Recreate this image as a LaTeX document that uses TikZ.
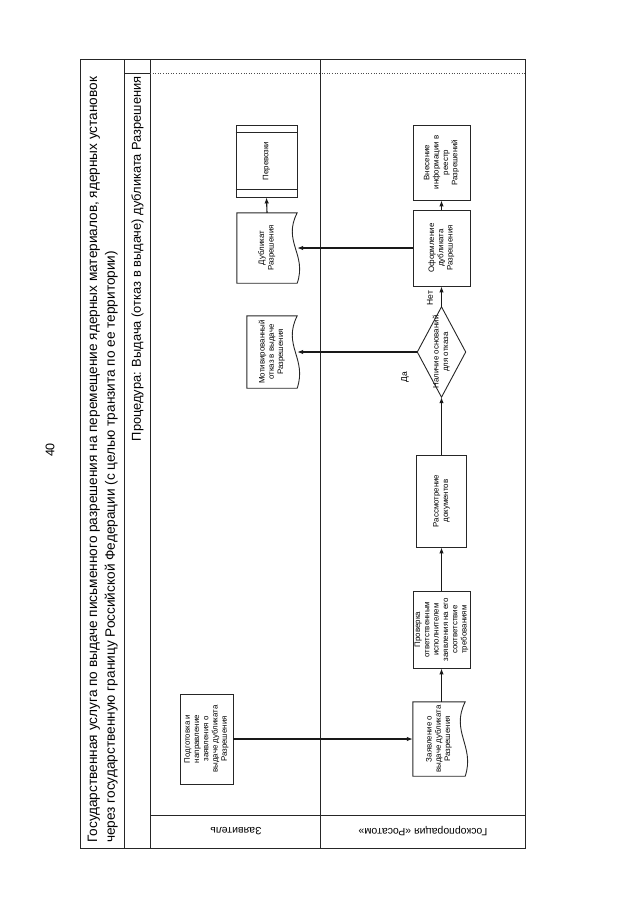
\documentclass[tikz,border=0pt]{standalone}
\usepackage{graphicx}
\usepackage{fontspec}
\setmainfont{Liberation Sans}
\usetikzlibrary{arrows.meta,calc}
\newcommand{\rtext}[1]{\rotatebox{90}{\begin{tabular}{@{}c@{}}#1\end{tabular}}}
\begin{document}
\begin{tikzpicture}[x=1pt,y=-1pt,
  frameline/.style={line width=1pt, draw=black!85},
  procbox/.style={draw=black!85, line width=0.9pt, rectangle, inner sep=0pt, font=\fontsize{7.9}{9.3}\selectfont},
  shapebox/.style={draw=none, rectangle, inner sep=0pt, font=\fontsize{7.9}{9.3}\selectfont},
  outline/.style={draw=black!85, line width=0.9pt},
  conn/.style={line width=1.1pt, draw=black!90, -{Latex[length=6pt,width=4.5pt]}},
  small/.style={font=\fontsize{8.5}{10}\selectfont, inner sep=0pt}]
\useasboundingbox (0,0) rectangle (640,905);

% frame
\draw[frameline] (80,59) rectangle (525,848);
\draw[frameline] (124,59) -- (124,848);
\draw[frameline] (150,59) -- (150,848);
\draw[frameline] (320,59) -- (320,848);
\draw[frameline] (150,815) -- (525,815);
\draw[frameline] (124,73) -- (150,73);
\draw[dotted, line width=0.6pt, black!70] (150,73) -- (525,73);

% page number
\node[rotate=90, font=\fontsize{12.5}{14}\selectfont, inner sep=0pt] (pnum) at (50,450) {40};

% title
\node[anchor=south, inner sep=0pt] (title) at (102.5,843) {\rotatebox{90}{\resizebox{766pt}{!}{\fontsize{13.6}{17.5}\selectfont\begin{tabular}{@{}l@{}}Государственная услуга по выдаче письменного разрешения на перемещение ядерных материалов, ядерных установок\\через государственную границу Российской Федерации (с целью транзита по ее территории)\end{tabular}}}};

% procedure label
\node[anchor=north, inner sep=0pt] (proc) at (137.5,76) {\rotatebox{90}{\resizebox{365pt}{!}{\fontsize{13.5}{16}\selectfont Процедура: Выдача (отказ в выдаче) дубликата Разрешения}}};

% lane labels
\node[rotate=180, font=\fontsize{10.5}{12}\selectfont, inner sep=0pt] (lane1) at (236,831) {Заявитель};
\node[rotate=180, font=\fontsize{10.5}{12}\selectfont, inner sep=0pt] (lane2) at (423,831) {Госкорпорация «Росатом»};

% nodes
\node[procbox, minimum width=53, minimum height=90] (prep) at (206.5,739) {\rtext{Подготовка и\\направление\\заявления о\\выдаче дубликата\\Разрешения}};

\node[shapebox, minimum width=52, minimum height=74] (appl) at (439,739) {\rtext{Заявление о\\выдаче дубликата\\Разрешения}};
\draw[outline] (appl.south east) .. controls ([xshift=10pt,yshift=30pt]appl.south east) and ([xshift=-15pt,yshift=-30pt]appl.north east) .. (appl.north east) -- (appl.north west) -- (appl.south west) -- cycle;

\node[procbox, minimum width=57, minimum height=77] (check) at (441.5,629.5) {\rtext{Проверка\\ответственным\\исполнителем\\заявления на его\\соответствие\\требованиям}};

\node[procbox, minimum width=50, minimum height=92] (review) at (441.5,501) {\rtext{Рассмотрение\\документов}};

\node[shapebox, minimum width=48, minimum height=90] (dec) at (441.5,352) {\rtext{Наличие оснований\\для отказа}};
\draw[outline] (dec.north) -- (dec.east) -- (dec.south) -- (dec.west) -- cycle;

\node[shapebox, minimum width=50, minimum height=72] (refuse) at (272,352) {\rtext{Мотивированный\\отказ в выдаче\\Разрешения}};
\draw[outline] (refuse.south east) .. controls ([xshift=10pt,yshift=30pt]refuse.south east) and ([xshift=-15pt,yshift=-30pt]refuse.north east) .. (refuse.north east) -- (refuse.north west) -- (refuse.south west) -- cycle;

\node[procbox, minimum width=57, minimum height=76] (issue) at (441.5,248) {\rtext{Оформление\\дубликата\\Разрешения}};

\node[procbox, minimum width=57, minimum height=75] (reg) at (441.5,162.5) {\rtext{Внесение\\информации в\\реестр\\Разрешений}};

\node[shapebox, minimum width=60, minimum height=70] (dup) at (267,248) {\rtext{Дубликат\\Разрешения}};
\draw[outline] (dup.south east) .. controls ([xshift=10pt,yshift=29pt]dup.south east) and ([xshift=-15pt,yshift=-29pt]dup.north east) .. (dup.north east) -- (dup.north west) -- (dup.south west) -- cycle;

\node[procbox, minimum width=61, minimum height=72] (transp) at (266.5,161) {\rtext{Перевозки}};
\draw[outline] ([yshift=-8pt]transp.north west) -- ([yshift=-8pt]transp.north east);
\draw[outline] ([yshift=8pt]transp.south west) -- ([yshift=8pt]transp.south east);

% labels
\node[small, rotate=90] (yes) at (405,377) {Да};
\node[small, rotate=90] (no) at (430,298) {Нет};

% connectors
\draw[conn] (prep.east) -- (appl.west);
\draw[conn] (appl.north -| check.south) -- (check.south);
\draw[conn] (check.north) -- (review.south);
\draw[conn] (review.north) -- (dec.south);
\draw[conn] (dec.west) -- (refuse.east);
\draw[conn] (dec.north) -- (issue.south);
\draw[conn] (issue.north) -- (reg.south);
\draw[conn] (issue.west) -- (dup.east);
\draw[conn] (dup.north) -- (transp.south);
\end{tikzpicture}
\end{document}
